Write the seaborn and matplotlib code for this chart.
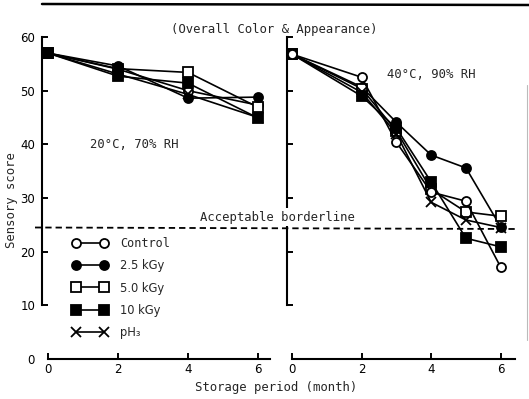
import matplotlib
matplotlib.use("Agg")
import matplotlib.pyplot as plt
from matplotlib.lines import Line2D
import seaborn as sns
import pandas as pd

# ---- data ----
series = ["Control", "2.5 kGy", "5.0 kGy", "10 kGy", "pH₃"]
months_left = [0, 2, 4, 6]
left_control = [57.0, 54.0, 50.0, 47.3]
left_25 = [57.0, 54.6, 48.6, 48.8]
left_50 = [57.0, 54.1, 53.4, 46.9]
left_10 = [57.0, 52.7, 51.4, 44.9]
left_ph3 = [57.0, 53.1, 49.3, 45.0]

months_right = [0, 2, 3, 4, 5, 6]
right_control = [56.8, 52.5, 40.4, 31.1, 29.4, 17.1]
right_25 = [56.8, 50.7, 44.1, 38.0, 35.6, 24.6]
right_50 = [56.8, 50.4, 42.5, 31.6, 27.4, 26.6]
right_10 = [56.8, 49.0, 43.0, 33.0, 22.5, 20.9]
right_ph3 = [56.8, 49.7, 42.0, 29.2, 25.9, 24.5]

yticks = [0, 10, 20, 30, 40, 50, 60]
xticks = [0, 2, 4, 6]

title_text = "(Overall Color & Appearance)"
left_cond = "20°C, 70% RH"
right_cond = "40°C, 90% RH"
border_text = "Acceptable borderline"
xlabel = "Storage period (month)"
ylabel = "Sensory score"

rows = []
for name, vals in zip(series, [left_control, left_25, left_50, left_10, left_ph3]):
    for m, v in zip(months_left, vals):
        rows.append(dict(panel="left", series=name, month=m, score=v))
for name, vals in zip(series, [right_control, right_25, right_50, right_10, right_ph3]):
    for m, v in zip(months_right, vals):
        rows.append(dict(panel="right", series=name, month=m, score=v))
df = pd.DataFrame(rows)

styles = {
    "Control": dict(marker="o", mfc="white"),
    "2.5 kGy": dict(marker="o", mfc="black"),
    "5.0 kGy": dict(marker="s", mfc="white"),
    "10 kGy": dict(marker="s", mfc="black"),
    "pH₃": dict(marker="x", mfc="black"),
}
top_series = {"left": "2.5 kGy", "right": "Control"}

sns.set_style("ticks")
plt.rcParams["font.family"] = ["DejaVu Sans"]
MONO = ["DejaVu Sans Mono"]

W, H = 529, 399
fig = plt.figure(figsize=(W / 100, H / 100), dpi=100)

def fx(px):
    return px / W

def fy(py):
    return 1 - py / H

ax_l = fig.add_axes([fx(42), fy(359), 228 / W, 322 / H])
ax_r = fig.add_axes([fx(287), fy(359), 228 / W, 322 / H])

for ax, panel, (x0, x1) in [(ax_l, "left", (-0.171, 6.34)), (ax_r, "right", (-0.144, 6.41))]:
    sub = df[df.panel == panel]
    for name in series:
        s = sub[sub.series == name]
        st = styles[name]
        sns.lineplot(data=s, x="month", y="score", ax=ax, sort=False,
                     color="black", lw=1.2, marker=st["marker"], ms=6.5,
                     mfc=st["mfc"], mec="black", mew=1.3, clip_on=False,
                     label=name if panel == "left" else None, legend=False,
                     zorder=4 if name == top_series[panel] else 3)
    ax.set_xlim(x0, x1)
    ax.set_ylim(0, 60)
    ax.set_xlabel("")
    ax.set_ylabel("")
    for side in ["top", "right"]:
        ax.spines[side].set_visible(False)
    ax.spines["left"].set_bounds(10, 60)
    ax.spines["bottom"].set_bounds(0, x1)
    for side in ["left", "bottom"]:
        ax.spines[side].set_linewidth(1.5)
        ax.spines[side].set_color("black")
    ax.set_xticks(xticks)
    ax.set_xticklabels([str(t) for t in xticks])
    ax.set_yticks(yticks)
    ax.tick_params(direction="in", length=4, width=1.4, colors="black",
                   labelsize=8.5, pad=3)
    ax.yaxis.get_major_ticks()[0].tick1line.set_visible(False)
    ax.patch.set_alpha(0)

ax_l.set_yticklabels([str(t) for t in yticks])
ax_r.set_yticklabels([])
ax_l.tick_params(axis="y", pad=5)

# legend
leg = ax_l.legend(loc="upper left", bbox_to_anchor=(fx(72.5), fy(237)),
                  bbox_transform=fig.transFigure, frameon=False,
                  numpoints=2, handlelength=2.95, handletextpad=1.05,
                  labelspacing=0.78, borderpad=0, borderaxespad=0,
                  prop=dict(family=MONO, size=8.6))
for t in leg.get_texts():
    if t.get_text() != "Control":
        t.set_fontfamily("DejaVu Sans")
        t.set_fontsize(8.3)

# texts
fig.text(fx(274), fy(29), title_text, ha="center", va="center", family=MONO, fontsize=8.8)
fig.text(fx(134), fy(145), left_cond, ha="center", va="center", family=MONO, fontsize=8.8)
fig.text(fx(431), fy(75), right_cond, ha="center", va="center", family=MONO, fontsize=8.8)
fig.text(fx(277), fy(217), border_text, ha="center", va="center", family=MONO, fontsize=8.8,
         bbox=dict(facecolor="white", edgecolor="none", pad=1.5), zorder=3)
fig.text(fx(276), fy(387), xlabel, ha="center", va="center", family=MONO, fontsize=8.8)
fig.text(fx(12), fy(200), ylabel, ha="center", va="center", rotation=90, family=MONO, fontsize=8.8)

# acceptable borderline dashed line (spans both panels)
fig.add_artist(Line2D([fx(35), fx(517)], [fy(227.5), fy(229)], transform=fig.transFigure,
                      color="black", lw=1.3, ls=(0, (3.5, 2.2)), zorder=4))
# top rule
fig.add_artist(Line2D([fx(42), fx(529)], [fy(4), fy(5)], transform=fig.transFigure,
                      color="black", lw=1.8, zorder=4))
# faint scan edge on right
fig.add_artist(Line2D([fx(527), fx(527)], [fy(85), fy(340)], transform=fig.transFigure,
                      color="#bbbbbb", lw=0.8, zorder=1))

fig.savefig("out.png", dpi=100)
